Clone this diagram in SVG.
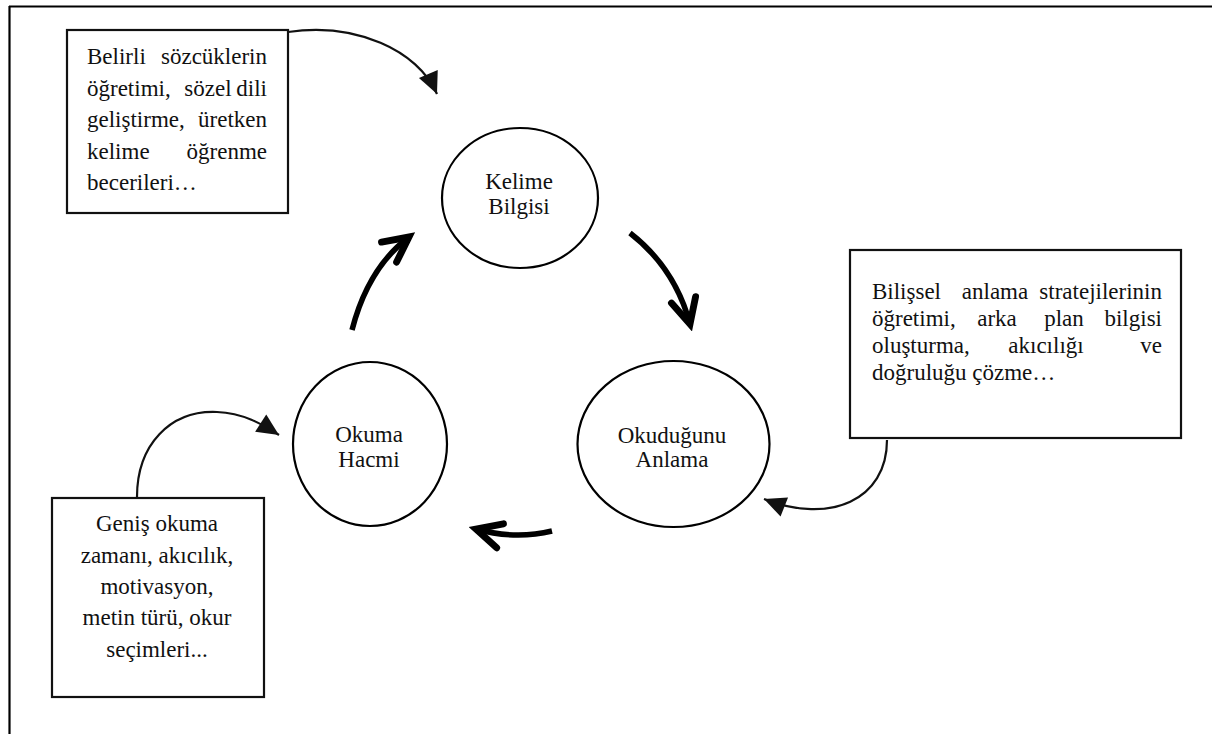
<svg xmlns="http://www.w3.org/2000/svg" width="1215" height="734" viewBox="0 0 1215 734">
<defs>
<style>
.box{fill:#fff;stroke:#111;stroke-width:2.2}
.node{fill:#fff;stroke:#000;stroke-width:2.2}
.t{font-family:"Liberation Serif","Times New Roman",serif;font-size:23px;fill:#111}
.m{text-anchor:middle}
.e{text-anchor:end}
.thin{fill:none;stroke:#111;stroke-width:2.2}
.thick{fill:none;stroke:#000;stroke-width:5.5}
</style>
<marker id="tri" markerUnits="userSpaceOnUse" markerWidth="30" markerHeight="30" viewBox="-20 -10 22 20" refX="0" refY="0" orient="auto">
<path d="M-16,-7.5 L0,0 L-16,7.5 Z" fill="#111"/>
</marker>
<marker id="chev" markerUnits="userSpaceOnUse" markerWidth="40" markerHeight="40" viewBox="-26 -16 32 32" refX="0" refY="0" orient="auto">
<path d="M-20,-10 L0,0 L-20,10" fill="none" stroke="#000" stroke-width="5.5" stroke-linecap="round" stroke-linejoin="miter"/>
</marker>
</defs>
<g id="frame">
<line x1="9" y1="6.5" x2="1212" y2="6.5" stroke="#000" stroke-width="2.2"/>
<line x1="9.5" y1="6" x2="9.5" y2="734" stroke="#000" stroke-width="2.2"/>
</g>
<g id="connectors">
<path class="thin" d="M288,32 C355,22 418,50 437,94" marker-end="url(#tri)"/>
<path class="thin" d="M137,497 C137,445 170,410 217,412 C243,413 262,424 279,435" marker-end="url(#tri)"/>
<path class="thin" d="M887,440 C887,500 830,525 764,499" marker-end="url(#tri)"/>
<path class="thick" d="M630,233 Q675,268 690,324" marker-end="url(#chev)"/>
<path class="thick" d="M552,531 Q515,540 476,529" marker-end="url(#chev)"/>
<path class="thick" d="M352,330 Q368,268 409,237" marker-end="url(#chev)"/>
</g>
<g id="box-kelime-strategies">
<rect class="box" x="67" y="30" width="221" height="183"/>
<text class="t" x="87" y="64">Belirli</text>
<text class="t e" x="267" y="64">sözcüklerin</text>
<text class="t" x="87" y="95.5">öğretimi,</text>
<text class="t m" x="208" y="95.5">sözel</text>
<text class="t e" x="267" y="95.5">dili</text>
<text class="t" x="87" y="127">geliştirme,</text>
<text class="t e" x="267" y="127">üretken</text>
<text class="t" x="87" y="158.5">kelime</text>
<text class="t e" x="267" y="158.5">öğrenme</text>
<text class="t" x="87" y="190">becerileri…</text>
</g>
<g id="box-anlama-strategies">
<rect class="box" x="850" y="250" width="331" height="188"/>
<text class="t" x="872" y="299">Bilişsel</text>
<text class="t m" x="995" y="299">anlama</text>
<text class="t e" x="1162" y="299">stratejilerinin</text>
<text class="t" x="872" y="326">öğretimi,</text>
<text class="t m" x="997" y="326">arka</text>
<text class="t m" x="1064" y="326">plan</text>
<text class="t e" x="1162" y="326">bilgisi</text>
<text class="t" x="872" y="353">oluşturma,</text>
<text class="t m" x="1046" y="353">akıcılığı</text>
<text class="t e" x="1162" y="353">ve</text>
<text class="t" x="872" y="380">doğruluğu çözme…</text>
</g>
<g id="box-okuma-factors">
<rect class="box" x="52" y="498" width="212" height="199"/>
<text class="t m" x="157" y="531">Geniş okuma</text>
<text class="t m" x="157" y="563">zamanı, akıcılık,</text>
<text class="t m" x="157" y="594">motivasyon,</text>
<text class="t m" x="157" y="625">metin türü, okur</text>
<text class="t m" x="157" y="657">seçimleri...</text>
</g>
<g id="node-kelime">
<ellipse class="node" cx="520" cy="198" rx="78" ry="70"/>
<text class="t m" x="519" y="189">Kelime</text>
<text class="t m" x="519" y="214">Bilgisi</text>
</g>
<g id="node-okuma">
<ellipse class="node" cx="370" cy="444" rx="77" ry="82"/>
<text class="t m" x="369" y="442">Okuma</text>
<text class="t m" x="369" y="467">Hacmi</text>
</g>
<g id="node-anlama">
<ellipse class="node" cx="673.5" cy="444" rx="96" ry="83"/>
<text class="t m" x="672" y="443">Okuduğunu</text>
<text class="t m" x="672" y="467">Anlama</text>
</g>
</svg>
